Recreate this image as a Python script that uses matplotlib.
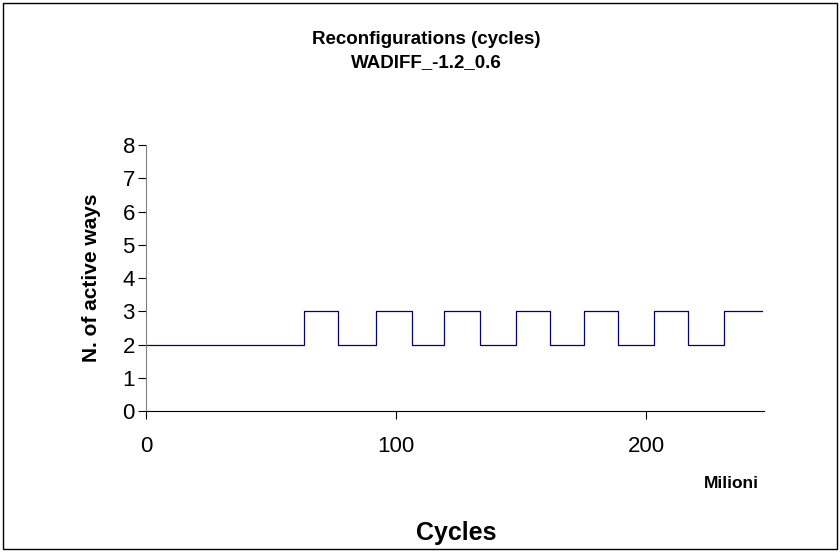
import matplotlib
matplotlib.use("Agg")
import matplotlib.pyplot as plt
from matplotlib.patches import Rectangle

plt.rcParams['font.family'] = ['Liberation Sans', 'DejaVu Sans']

# cycle (milioni) at which the number of active ways changes
cycles = [0, 63.2, 76.8, 92.0, 106.4, 119.2, 133.6, 148.0, 161.6,
          175.2, 188.8, 203.2, 216.8, 231.2, 246.4]
ways = [2, 3, 2, 3, 2, 3, 2, 3, 2, 3, 2, 3, 2, 3, 3]

yticks = [0, 1, 2, 3, 4, 5, 6, 7, 8]
xticks = [0, 100, 200]

fig = plt.figure(figsize=(8.4, 5.52), dpi=100)
fig.patches.append(Rectangle((0.004, 0.005), 0.992, 0.99, transform=fig.transFigure,
                             fill=False, edgecolor='black', linewidth=1))

ax = fig.add_axes([0.1738, 0.2554, 0.7357, 0.4819])
ax.step(cycles, ways, where='post', color='#000080', linewidth=0.9)

ax.set_xlim(0, 247)
ax.set_ylim(0, 8)
ax.set_xticks(xticks)
ax.set_yticks(yticks)
ax.tick_params(axis='both', labelsize=16, direction='out', length=6, width=0.8)
ax.tick_params(axis='x', pad=12)
ax.tick_params(axis='y', pad=2)

for s in ['top', 'right']:
    ax.spines[s].set_visible(False)
ax.spines['left'].set_color('#808080')
ax.spines['bottom'].set_color('black')

fig.text(0.109, 0.496, "N. of active ways", fontsize=15, fontweight='bold',
         rotation=90, ha='center', va='center')
fig.text(0.543, 0.0217, "Cycles", fontsize=18, fontweight='bold', ha='center', va='baseline')
fig.text(0.9036, 0.116, "Milioni", fontsize=12.5, fontweight='bold', ha='right', va='baseline')

fig.text(0.508, 0.920, "Reconfigurations (cycles)", fontsize=13.5, fontweight='bold',
         ha='center', va='baseline')
fig.text(0.508, 0.879, "WADIFF_-1.2_0.6", fontsize=13.5, fontweight='bold',
         ha='center', va='baseline')

fig.savefig("out.png", dpi=100)
